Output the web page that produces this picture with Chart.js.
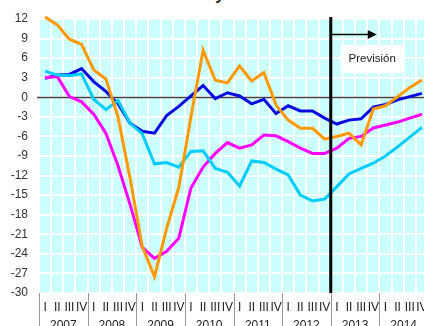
<!DOCTYPE html>
<html lang="es">
<head>
<meta charset="utf-8">
<title>Consumo y inversión</title>
<script src="https://cdn.jsdelivr.net/npm/chart.js@4.4.1/dist/chart.umd.min.js"></script>
<style>
    html, body {
        margin: 0;
        padding: 0;
        overflow: hidden;
        background: #fff;
    }
    #wrap {
        position: relative;
        width: 428px;
        height: 326px;
    }
    #chartTitle {
        position: absolute;
        top: -13px;
        left: 137px;
        font: bold 16px/16px "Liberation Sans", Arial, sans-serif;
        color: #222;
        white-space: nowrap;
    }
    canvas {
        position: absolute;
        left: 0;
        top: 0;
    }
</style>
</head>
<body>
<div id="wrap">
    <div id="chartTitle">Consumo y inversión</div>
    <canvas id="mainChart" width="428" height="326"></canvas>
</div>
<script>
// Quarterly rates, 2007 Q1 .. 2014 Q4
const years = ['2007', '2008', '2009', '2010', '2011', '2012', '2013', '2014'];
const quarters = ['I', 'II', 'III', 'IV'];
const forecastLabel = 'Previsión';
const forecastYear = '2013';

const yTicks = { min: -30, max: 12, step: 3 };

const orangeSeries = [12.3, 11.1, 8.9, 8.1, 4.2, 2.8, -3.0, -12.5,
    -22.9, -27.5, -20.1, -13.8, -3.0, 7.2, 2.6, 2.2,
    4.8, 2.5, 3.8, -1.2, -3.5, -4.75, -4.75, -6.4,
    -6.0, -5.5, -7.3, -1.8, -1.3, 0.1, 1.5, 2.65];

const blueSeries = [2.9, 3.4, 3.5, 4.4, 2.4, 0.9, -1.0, -4.0,
    -5.2, -5.5, -2.8, -1.4, 0.2, 1.8, -0.2, 0.7,
    0.2, -1.0, -0.3, -2.5, -1.3, -2.1, -2.1, -3.2,
    -4.1, -3.5, -3.3, -1.5, -1.1, -0.4, 0.1, 0.6];

const cyanSeries = [4.0, 3.4, 3.3, 3.6, -0.3, -1.9, -0.5, -4.0,
    -5.6, -10.2, -10.0, -10.7, -8.3, -8.2, -10.9, -11.5,
    -13.6, -9.75, -10.0, -11.0, -11.9, -15.0, -15.9, -15.6,
    -13.7, -11.75, -10.9, -10.1, -9.0, -7.6, -6.1, -4.6];

const magentaSeries = [3.0, 3.2, 0.1, -0.7, -2.6, -5.5, -10.5, -16.5,
    -23.0, -24.7, -23.6, -21.6, -13.9, -10.7, -8.6, -6.95,
    -7.8, -7.3, -5.8, -5.9, -6.8, -7.8, -8.6, -8.6,
    -7.8, -6.3, -6.0, -4.7, -4.25, -3.8, -3.2, -2.6];

const labels = years.flatMap(y => quarters.map(q => q + ' ' + y));
const forecastIndex = years.indexOf(forecastYear) * quarters.length;

const FONT = '"Liberation Sans", Arial, sans-serif';

/**
 * Build one line dataset
 */
function lineSet(label, data, color) {
    return {
        label: label,
        data: data,
        borderColor: color,
        backgroundColor: color,
        borderWidth: 3,
        pointRadius: 0,
        tension: 0,
        clip: false
    };
}

/**
 * Light cyan plot background
 */
const plotBackground = {
    id: 'plotBackground',
    beforeDraw(chart) {
        const { ctx, chartArea: a } = chart;
        ctx.save();
        ctx.fillStyle = '#ccffff';
        ctx.fillRect(a.left, a.top, a.right - a.left, a.bottom - a.top);
        ctx.restore();
    }
};

/**
 * Zero line under the series
 */
const zeroLine = {
    id: 'zeroLine',
    beforeDatasetsDraw(chart) {
        const { ctx, chartArea: a } = chart;
        const y = Math.round(chart.scales.y.getPixelForValue(0)) + 0.5;
        ctx.save();
        ctx.strokeStyle = '#444';
        ctx.lineWidth = 1.5;
        ctx.beginPath();
        ctx.moveTo(a.left - 2, y);
        ctx.lineTo(a.right, y);
        ctx.stroke();
        ctx.restore();
    }
};

/**
 * Forecast divider, arrow and label box
 */
const forecastMarker = {
    id: 'forecastMarker',
    afterDatasetsDraw(chart) {
        const { ctx, chartArea: a } = chart;
        const xs = chart.scales.x;
        const x = (xs.getPixelForValue(forecastIndex - 1) + xs.getPixelForValue(forecastIndex)) / 2;
        ctx.save();

        // divider
        ctx.strokeStyle = '#000';
        ctx.lineWidth = 3;
        ctx.beginPath();
        ctx.moveTo(x, a.top - 2);
        ctx.lineTo(x, a.bottom);
        ctx.stroke();

        // arrow
        const ay = 34.5;
        const tip = x + 46;
        ctx.lineWidth = 1.5;
        ctx.beginPath();
        ctx.moveTo(x + 1, ay);
        ctx.lineTo(tip - 8, ay);
        ctx.stroke();
        ctx.fillStyle = '#000';
        ctx.beginPath();
        ctx.moveTo(tip, ay);
        ctx.lineTo(tip - 9, ay - 4.5);
        ctx.lineTo(tip - 9, ay + 4.5);
        ctx.closePath();
        ctx.fill();

        // label box
        const bx = x + 10, by = 45, bw = 63, bh = 28;
        ctx.fillStyle = '#fff';
        ctx.fillRect(bx, by, bw, bh);
        ctx.fillStyle = '#222';
        ctx.font = '11.5px ' + FONT;
        ctx.textAlign = 'center';
        ctx.textBaseline = 'alphabetic';
        ctx.fillText(forecastLabel, bx + bw / 2, by + 17);

        ctx.restore();
    }
};

/**
 * Year separators and year names under the quarter labels
 */
const yearAxis = {
    id: 'yearAxis',
    afterDraw(chart) {
        const { ctx, chartArea: a } = chart;
        const xs = chart.scales.x;
        const half = (xs.getPixelForValue(1) - xs.getPixelForValue(0)) / 2;
        ctx.save();
        ctx.strokeStyle = '#999';
        ctx.lineWidth = 1;
        ctx.fillStyle = '#222';
        ctx.font = '12px ' + FONT;
        ctx.textAlign = 'center';
        ctx.textBaseline = 'alphabetic';
        years.forEach((year, i) => {
            const first = i * quarters.length;
            const last = first + quarters.length - 1;
            const left = Math.round(xs.getPixelForValue(first) - half) + 0.5;
            ctx.beginPath();
            ctx.moveTo(left, a.bottom);
            ctx.lineTo(left, chart.height);
            ctx.stroke();
            const mid = (xs.getPixelForValue(first) + xs.getPixelForValue(last)) / 2;
            ctx.fillText(year, mid, 329);
        });
        ctx.restore();
    }
};

const ctx = document.getElementById('mainChart').getContext('2d');

new Chart(ctx, {
    type: 'line',
    data: {
        labels: labels,
        datasets: [
            lineSet('orange', orangeSeries, '#ff9900'),
            lineSet('cyan', cyanSeries, '#00ccff'),
            lineSet('magenta', magentaSeries, '#ff00ff'),
            lineSet('blue', blueSeries, '#0a0ae0')
        ]
    },
    options: {
        responsive: false,
        animation: false,
        layout: {
            padding: { top: 19, right: 0, bottom: 0, left: 0 }
        },
        plugins: {
            legend: { display: false },
            title: { display: false },
            tooltip: { enabled: false }
        },
        scales: {
            x: {
                offset: true,
                border: { display: false },
                grid: {
                    offset: true,
                    color: '#ffffff',
                    lineWidth: 2,
                    drawTicks: false
                },
                ticks: {
                    autoSkip: false,
                    maxRotation: 0,
                    minRotation: 0,
                    padding: 7,
                    color: '#222',
                    font: { family: FONT, size: 12 },
                    callback: function(value, index) {
                        return quarters[index % quarters.length];
                    }
                },
                afterFit: function(scale) {
                    scale.height = 33;
                    // no extra side padding, the plot runs to the canvas edge
                    scale.paddingLeft = 0;
                    scale.paddingRight = 0;
                }
            },
            y: {
                min: yTicks.min,
                max: yTicks.max,
                border: { display: false },
                grid: {
                    color: '#ffffff',
                    lineWidth: 2,
                    drawTicks: false
                },
                ticks: {
                    stepSize: yTicks.step,
                    padding: 11,
                    color: '#333',
                    font: { family: FONT, size: 12 }
                },
                afterFit: function(scale) {
                    scale.width = 39;
                    scale.paddingTop = 0;
                    scale.paddingBottom = 0;
                }
            }
        }
    },
    plugins: [plotBackground, zeroLine, forecastMarker, yearAxis]
});
</script>
</body>
</html>
